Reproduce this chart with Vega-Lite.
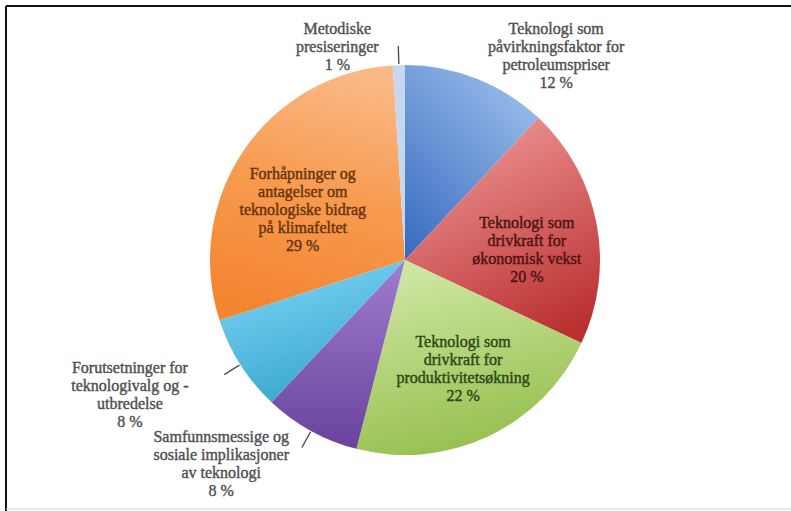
{
  "$schema": "https://vega.github.io/schema/vega-lite/v6.json",
  "width": 798,
  "height": 508,
  "autosize": {"type": "none"},
  "padding": {"left": 6, "top": 6, "right": -13, "bottom": -3},
  "background": "white",
  "view": {"stroke": null},
  "data": {
    "values": [
      {"idx": 1, "share": 12, "label": "Teknologi som\npåvirkningsfaktor for\npetroleumspriser\n12 %"},
      {"idx": 2, "share": 20, "label": "Teknologi som\ndrivkraft for\nøkonomisk vekst\n20 %"},
      {"idx": 3, "share": 22, "label": "Teknologi som\ndrivkraft for\nproduktivitetsøkning\n22 %"},
      {"idx": 4, "share": 8, "label": "Samfunnsmessige og\nsosiale implikasjoner\nav teknologi\n8 %"},
      {"idx": 5, "share": 8, "label": "Forutsetninger for\nteknologivalg og -\nutbredelse\n8 %"},
      {"idx": 6, "share": 29, "label": "Forhåpninger og\nantagelser om\nteknologiske bidrag\npå klimafeltet\n29 %"},
      {"idx": 7, "share": 1, "label": "Metodiske\npresiseringer\n1 %"}
    ]
  },
  "layer": [
    {
      "transform": [{"filter": "datum.idx==1"}],
      "mark": {"type": "rule", "stroke": "#111111", "strokeWidth": 2},
      "encoding": {"y": {"value": 0}}
    },
    {
      "transform": [{"filter": "datum.idx==1"}],
      "mark": {"type": "rule", "stroke": "#111111", "strokeWidth": 2},
      "encoding": {"x": {"value": 0}}
    },
    {
      "transform": [{"filter": "datum.idx==1"}],
      "mark": {"type": "rule", "stroke": "#D4D4D4", "strokeWidth": 1},
      "encoding": {"y": {"value": 503}}
    },
    {
      "mark": {"type": "arc", "outerRadius": 195},
      "encoding": {
        "theta": {"field": "share", "type": "quantitative", "stack": true},
        "order": {"field": "idx", "type": "quantitative"},
        "color": {
          "condition": [
            {"test": "datum.idx==1", "value": {"gradient": "linear", "x1": 0.8, "y1": 0, "x2": 0.1, "y2": 1, "stops": [{"offset": 0, "color": "#9CBEEB"}, {"offset": 1, "color": "#3A6DC2"}]}},
            {"test": "datum.idx==2", "value": {"gradient": "linear", "x1": 0.3, "y1": 0, "x2": 0.7, "y2": 1, "stops": [{"offset": 0, "color": "#EE9896"}, {"offset": 1, "color": "#BA3030"}]}},
            {"test": "datum.idx==3", "value": {"gradient": "linear", "x1": 0.3, "y1": 0, "x2": 0.6, "y2": 1, "stops": [{"offset": 0, "color": "#D0E7A4"}, {"offset": 1, "color": "#93BE4A"}]}},
            {"test": "datum.idx==4", "value": {"gradient": "linear", "x1": 0.5, "y1": 0, "x2": 0.5, "y2": 1, "stops": [{"offset": 0, "color": "#A07DD0"}, {"offset": 1, "color": "#6A429C"}]}},
            {"test": "datum.idx==5", "value": {"gradient": "linear", "x1": 0.3, "y1": 0, "x2": 0.7, "y2": 1, "stops": [{"offset": 0, "color": "#7CD4F4"}, {"offset": 1, "color": "#33A3CB"}]}},
            {"test": "datum.idx==6", "value": {"gradient": "linear", "x1": 0.6, "y1": 0, "x2": 0.4, "y2": 1, "stops": [{"offset": 0, "color": "#FAB987"}, {"offset": 0.5, "color": "#F79A4E"}, {"offset": 1, "color": "#F38430"}]}}
          ],
          "value": "#C5D8F0"
        }
      }
    },
    {
      "mark": {"type": "arc", "filled": false, "innerRadius": 196, "outerRadius": 214, "padAngle": 1.0, "stroke": "#444444", "strokeWidth": 1.3},
      "encoding": {
        "theta": {"field": "share", "type": "quantitative", "stack": true},
        "order": {"field": "idx", "type": "quantitative"},
        "strokeOpacity": {"condition": {"test": "datum.idx==4 || datum.idx==5 || datum.idx==7", "value": 1}, "value": 0}
      }
    },
    {
      "mark": {"type": "text", "radius": 215, "dx": 72, "dy": -31, "font": "Liberation Serif", "fontSize": 16, "lineHeight": 18, "lineBreak": "\n", "fill": "#505050", "stroke": "#505050", "strokeWidth": 0.4},
      "encoding": {"theta": {"field": "share", "type": "quantitative", "stack": true}, "order": {"field": "idx", "type": "quantitative"}, "text": {"field": "label"}, "opacity": {"condition": {"test": "datum.idx==1", "value": 1}, "value": 0}}
    },
    {
      "mark": {"type": "text", "radius": 124, "dx": 0, "dy": -14, "font": "Liberation Serif", "fontSize": 16, "lineHeight": 18, "lineBreak": "\n", "fill": "#4E1212", "stroke": "#4E1212", "strokeWidth": 0.4},
      "encoding": {"theta": {"field": "share", "type": "quantitative", "stack": true}, "order": {"field": "idx", "type": "quantitative"}, "text": {"field": "label"}, "opacity": {"condition": {"test": "datum.idx==2", "value": 1}, "value": 0}}
    },
    {
      "mark": {"type": "text", "radius": 120, "dx": 7, "dy": -27, "font": "Liberation Serif", "fontSize": 16, "lineHeight": 18, "lineBreak": "\n", "fill": "#2C4814", "stroke": "#2C4814", "strokeWidth": 0.4},
      "encoding": {"theta": {"field": "share", "type": "quantitative", "stack": true}, "order": {"field": "idx", "type": "quantitative"}, "text": {"field": "label"}, "opacity": {"condition": {"test": "datum.idx==3", "value": 1}, "value": 0}}
    },
    {
      "mark": {"type": "text", "radius": 230, "dx": -73, "dy": -25, "font": "Liberation Serif", "fontSize": 16, "lineHeight": 18, "lineBreak": "\n", "fill": "#505050", "stroke": "#505050", "strokeWidth": 0.4},
      "encoding": {"theta": {"field": "share", "type": "quantitative", "stack": true}, "order": {"field": "idx", "type": "quantitative"}, "text": {"field": "label"}, "opacity": {"condition": {"test": "datum.idx==4", "value": 1}, "value": 0}}
    },
    {
      "mark": {"type": "text", "radius": 250, "dx": -64, "dy": -26, "font": "Liberation Serif", "fontSize": 16, "lineHeight": 18, "lineBreak": "\n", "fill": "#505050", "stroke": "#505050", "strokeWidth": 0.4},
      "encoding": {"theta": {"field": "share", "type": "quantitative", "stack": true}, "order": {"field": "idx", "type": "quantitative"}, "text": {"field": "label"}, "opacity": {"condition": {"test": "datum.idx==5", "value": 1}, "value": 0}}
    },
    {
      "mark": {"type": "text", "radius": 120, "dx": -3, "dy": -19, "font": "Liberation Serif", "fontSize": 16, "lineHeight": 18, "lineBreak": "\n", "fill": "#66330C", "stroke": "#66330C", "strokeWidth": 0.4},
      "encoding": {"theta": {"field": "share", "type": "quantitative", "stack": true}, "order": {"field": "idx", "type": "quantitative"}, "text": {"field": "label"}, "opacity": {"condition": {"test": "datum.idx==6", "value": 1}, "value": 0}}
    },
    {
      "mark": {"type": "text", "radius": 213, "dx": -61, "dy": -18, "font": "Liberation Serif", "fontSize": 16, "lineHeight": 18, "lineBreak": "\n", "fill": "#505050", "stroke": "#505050", "strokeWidth": 0.4},
      "encoding": {"theta": {"field": "share", "type": "quantitative", "stack": true}, "order": {"field": "idx", "type": "quantitative"}, "text": {"field": "label"}, "opacity": {"condition": {"test": "datum.idx==7", "value": 1}, "value": 0}}
    }
  ]
}
